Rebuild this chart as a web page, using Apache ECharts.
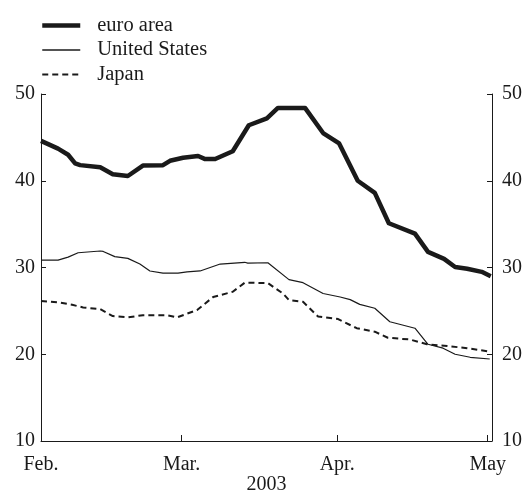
<!DOCTYPE html>
<html>
<head>
    <meta charset="utf-8">
    <title>2003</title>
    <script src="https://cdn.jsdelivr.net/npm/echarts@6/dist/echarts.min.js"></script>
    <style type="text/css">
        html, body { margin: 0; padding: 0; background: #fff; }
        #main { width: 528px; height: 493px; }
    </style>
</head>
<body>
<div id="main"></div>
<script type="text/javascript">
    // days counted from 1 Feb 2003
    var tickDays = [0, 28, 59, 89];
    var tickLabels = ['Feb.', 'Mar.', 'Apr.', 'May'];

    var euroDays = [0, 3.4, 5.4, 6.8, 7.8, 11.8, 14.3, 17.3, 20.3, 24.3, 25.7, 28.3, 31.3, 32.7, 34.7, 38.2,
        41.4, 45.0, 47.2, 52.6, 56.2, 59.4, 63.1, 66.5, 69.3, 74.5, 77.1, 80.3, 82.5, 84.9, 87.8, 89.6];
    var euroVals = [44.6, 43.7, 43.0, 42.0, 41.8, 41.55, 40.75, 40.55, 41.75, 41.8, 42.3, 42.65, 42.85, 42.5, 42.5, 43.4,
        46.4, 47.2, 48.4, 48.4, 45.5, 44.3, 40.0, 38.6, 35.1, 33.9, 31.8, 31.0, 30.05, 29.85, 29.5, 29.0];

    var usDays = [0, 3.4, 5.4, 7.4, 11.8, 12.4, 14.7, 17.3, 19.7, 21.7, 24.3, 27.3, 29.1, 31.7, 33.7, 35.7,
        40.6, 41.2, 45.2, 49.4, 52.2, 56.2, 59.6, 61.6, 63.5, 66.5, 69.5, 74.5, 77.1, 80.1, 82.5, 85.5, 89.4];
    var usVals = [30.85, 30.85, 31.2, 31.7, 31.9, 31.85, 31.25, 31.05, 30.4, 29.6, 29.35, 29.35, 29.5, 29.6, 30.0, 30.4,
        30.6, 30.5, 30.55, 28.6, 28.25, 27.0, 26.6, 26.3, 25.75, 25.3, 23.75, 23.0, 21.15, 20.7, 20.0, 19.65, 19.45];

    var japanDays = [0, 3.8, 6.2, 8.4, 11.8, 14.3, 17.3, 20.3, 25.1, 27.1, 31.1, 34.3, 38.2, 40.6, 45.2,
        48.2, 49.4, 52.2, 55.2, 59.2, 62.9, 66.5, 69.1, 73.5, 76.9, 80.9, 84.9, 89.4];
    var japanVals = [26.15, 25.95, 25.7, 25.4, 25.2, 24.4, 24.25, 24.5, 24.5, 24.25, 25.1, 26.6, 27.2, 28.25, 28.2,
        27.0, 26.25, 26.05, 24.35, 24.05, 23.0, 22.6, 21.9, 21.7, 21.15, 20.95, 20.7, 20.3];

    function pairs(xs, ys) {
        var out = [];
        for (var i = 0; i < xs.length; i++) { out.push([xs[i], ys[i]]); }
        return out;
    }

    var font = 'Liberation Serif';
    var ink = '#1a1a1a';

    var yAxisBase = {
        type: 'value',
        min: 10,
        max: 50,
        interval: 10,
        splitLine: { show: false },
        axisLine: { show: true, lineStyle: { color: ink, width: 1 } },
        axisTick: { show: true, inside: true, length: 5, lineStyle: { color: ink } },
        axisLabel: { color: ink, fontFamily: font, fontSize: 20 }
    };

    var option = {
        animation: false,
        backgroundColor: '#fff',
        grid: { left: 41, right: 36, top: 94, bottom: 52, outerBoundsMode: 'none' },
        legend: {
            orient: 'vertical',
            left: 35,
            top: 10,
            itemWidth: 38,
            itemHeight: 14,
            itemGap: 3.5,
            selectedMode: false,
            itemStyle: { opacity: 0 },
            textStyle: { color: ink, fontFamily: font, fontSize: 20.5, padding: [0, 0, 0, 12] },
            data: [
                { name: 'euro area', lineStyle: { width: 4.5 } },
                { name: 'United States', lineStyle: { width: 1.3 } },
                { name: 'Japan', lineStyle: { width: 2 } }
            ]
        },
        xAxis: {
            type: 'value',
            min: 0,
            max: 89.85,
            name: '2003',
            nameLocation: 'middle',
            nameGap: 34,
            nameMoveOverlap: false,
            nameTextStyle: { color: ink, fontFamily: font, fontSize: 20 },
            splitLine: { show: false },
            axisLine: { show: true, onZero: false, lineStyle: { color: ink, width: 1 } },
            axisTick: { show: true, inside: true, length: 6, customValues: tickDays, lineStyle: { color: ink } },
            axisLabel: {
                color: ink, fontFamily: font, fontSize: 20, margin: 14,
                customValues: tickDays,
                formatter: function (v) {
                    var i = tickDays.indexOf(v);
                    return i >= 0 ? tickLabels[i] : '';
                }
            }
        },
        yAxis: [
            echarts.util.merge({ position: 'left', axisLabel: { margin: 6 } }, yAxisBase, true),
            echarts.util.merge({ position: 'right', axisLabel: { margin: 10 } }, yAxisBase, true)
        ],
        series: [
            {
                name: 'euro area',
                type: 'line',
                symbol: 'none',
                data: pairs(euroDays, euroVals),
                lineStyle: { color: ink, width: 4.5, join: 'round' },
                itemStyle: { color: ink }
            },
            {
                name: 'United States',
                type: 'line',
                symbol: 'none',
                data: pairs(usDays, usVals),
                lineStyle: { color: ink, width: 1.2 },
                itemStyle: { color: ink }
            },
            {
                name: 'Japan',
                type: 'line',
                symbol: 'none',
                data: pairs(japanDays, japanVals),
                lineStyle: { color: ink, width: 2, type: [6, 4] },
                itemStyle: { color: ink }
            }
        ]
    };

    var chart = echarts.init(document.getElementById('main'));
    chart.setOption(option);
</script>
</body>
</html>
